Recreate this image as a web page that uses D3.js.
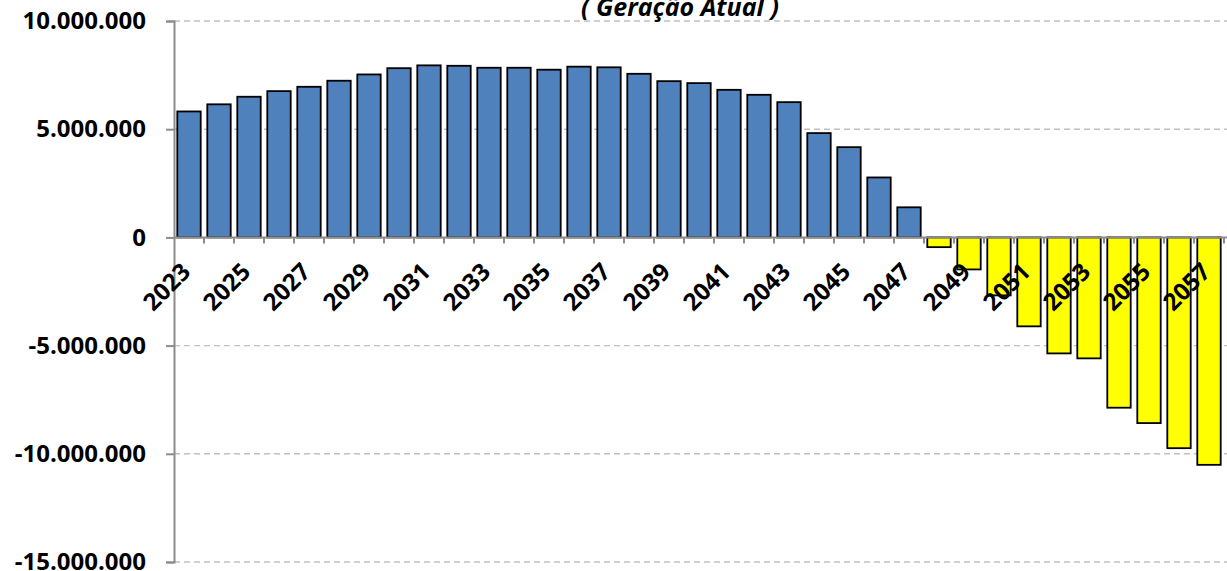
<!DOCTYPE html>
<html>
<head>
<meta charset="utf-8">
<script src="https://cdn.jsdelivr.net/npm/d3@7"></script>
<style>
  body { margin: 0; background: #fff; }
  svg { display: block; font-family: "Open Sans", sans-serif; }
</style>
</head>
<body>
<svg id="chart" width="1227" height="571"></svg>
<script>
// years and yearly balance
const years = d3.range(2023, 2058).map(String);
const values = [
  5820000, 6150000, 6500000, 6760000, 6960000, 7240000, 7530000, 7820000,
  7950000, 7930000, 7840000, 7840000, 7750000, 7890000, 7860000, 7560000,
  7220000, 7130000, 6820000, 6590000, 6250000, 4820000, 4170000, 2770000,
  1390000, -450000, -1480000, -2680000, -4110000, -5360000, -5590000,
  -7870000, -8580000, -9740000, -10510000
];
const yTicks = [10000000, 5000000, 0, -5000000, -10000000, -15000000];
const xLabels = years.filter((d, i) => i % 2 === 0);
const title = "( Geração Atual )";

const svg = d3.select("#chart");
const margin = { top: 21, left: 174, right: 3, bottom: 9 };
const width = 1227, height = 571;

const x = d3.scaleBand()
  .domain(years)
  .range([margin.left, margin.left + 30 * years.length])
  .paddingInner(0.22)
  .paddingOuter(0.11);

const y = d3.scaleLinear()
  .domain([-15000000, 10000000])
  .range([height - margin.bottom, margin.top]);

const fmt = (v) => d3.format(",")(v).replace(/,/g, ".").replace("−", "-");

// grid lines
svg.append("g")
  .selectAll("line")
  .data(yTicks.filter((d) => d !== 0))
  .join("line")
  .attr("x1", margin.left)
  .attr("x2", width)
  .attr("y1", (d) => y(d))
  .attr("y2", (d) => y(d))
  .attr("stroke", "#c0c0c0")
  .attr("stroke-width", 1.4)
  .attr("stroke-dasharray", "6,4");

// bars
svg.append("g")
  .selectAll("rect")
  .data(values)
  .join("rect")
  .attr("x", (d, i) => x(years[i]))
  .attr("y", (d) => y(Math.max(0, d)))
  .attr("width", x.bandwidth())
  .attr("height", (d) => Math.abs(y(d) - y(0)))
  .attr("fill", (d) => (d >= 0 ? "#4f81bd" : "#ffff00"))
  .attr("stroke", "#000")
  .attr("stroke-width", 1.8);

// y axis
const yAxis = svg.append("g")
  .attr("transform", `translate(${margin.left},0)`)
  .call(d3.axisLeft(y).tickValues(yTicks).tickFormat(fmt).tickSize(8).tickPadding(20));
yAxis.select(".domain").attr("stroke", "#8c8c8c").attr("stroke-width", 2);
yAxis.selectAll(".tick line").attr("stroke", "#8c8c8c").attr("stroke-width", 2);
yAxis.selectAll(".tick text")
  .attr("font-family", "Open Sans, sans-serif")
  .attr("font-size", 24)
  .attr("font-weight", "bold")
  .attr("fill", "#000");

// x axis line with ticks at category boundaries
const x0 = y(0);
svg.append("line")
  .attr("x1", margin.left)
  .attr("x2", width)
  .attr("y1", x0)
  .attr("y2", x0)
  .attr("stroke", "#8c8c8c")
  .attr("stroke-width", 2);

svg.append("g")
  .selectAll("line")
  .data(years)
  .join("line")
  .attr("x1", (d) => x(d) - x.step() * x.paddingOuter() + x.step())
  .attr("x2", (d) => x(d) - x.step() * x.paddingOuter() + x.step())
  .attr("y1", x0)
  .attr("y2", x0 + 6)
  .attr("stroke", "#8c8c8c")
  .attr("stroke-width", 2);

// x labels, rotated
svg.append("g")
  .selectAll("text")
  .data(xLabels)
  .join("text")
  .attr("transform", (d) => `translate(${x(d) + x.bandwidth() / 2 + 3},${x0 + 36}) rotate(-45)`)
  .attr("text-anchor", "end")
  .attr("font-size", 24)
  .attr("font-weight", "bold")
  .text((d) => d);

// title (cut at top)
svg.append("text")
  .attr("x", 680)
  .attr("y", 16)
  .attr("text-anchor", "middle")
  .attr("font-size", 25)
  .attr("font-weight", "bold")
  .attr("font-style", "italic")
  .text(title);
</script>
</body>
</html>
